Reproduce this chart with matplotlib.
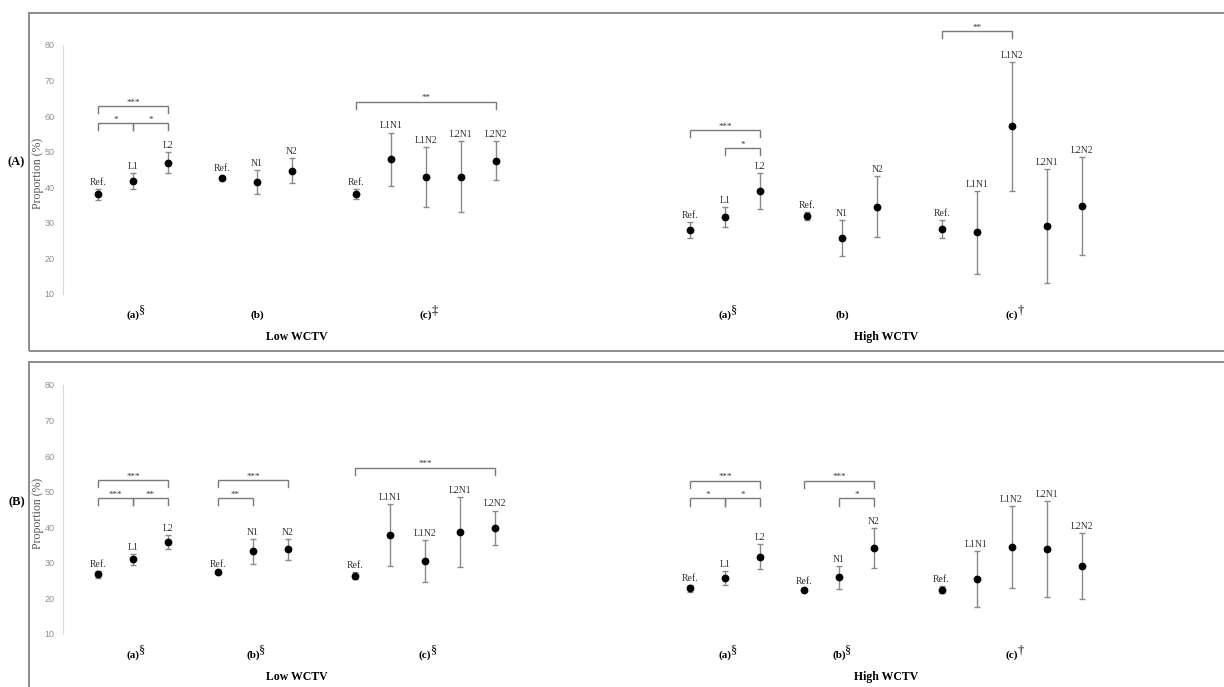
import matplotlib
matplotlib.use("Agg")
import matplotlib.pyplot as plt
from matplotlib.patches import Rectangle
from matplotlib import transforms

plt.rcParams['font.family'] = ['Liberation Serif', 'DejaVu Serif']

# ---- data (mean, half error) ----
labels_a = ['Ref.', 'L1', 'L2']
labels_b = ['Ref.', 'N1', 'N2']
labels_c = ['Ref.', 'L1N1', 'L1N2', 'L2N1', 'L2N2']

# panel A
A_low_a = [38.0, 41.8, 46.9]
A_low_a_err = [1.6, 2.2, 3.0]
A_low_b = [42.7, 41.4, 44.7]
A_low_b_err = [0.6, 3.4, 3.6]
A_low_c = [38.1, 47.9, 42.8, 43.0, 47.5]
A_low_c_err = [1.5, 7.5, 8.4, 10.0, 5.4]
A_high_a = [28.0, 31.6, 38.9]
A_high_a_err = [2.2, 2.8, 5.0]
A_high_b = [31.9, 25.7, 34.5]
A_high_b_err = [1.2, 5.0, 8.6]
A_high_c = [28.2, 27.3, 57.1, 29.0, 34.7]
A_high_c_err = [2.5, 11.7, 18.2, 16.0, 13.7]

# panel B
B_low_a = [26.8, 31.0, 35.8]
B_low_a_err = [1.0, 1.5, 2.0]
B_low_b = [27.3, 33.2, 33.8]
B_low_b_err = [0.5, 3.5, 3.0]
B_low_c = [26.4, 37.8, 30.5, 38.7, 39.9]
B_low_c_err = [1.0, 8.7, 5.9, 9.9, 4.8]
B_high_a = [22.8, 25.7, 31.7]
B_high_a_err = [1.0, 1.9, 3.5]
B_high_b = [22.5, 25.9, 34.2]
B_high_b_err = [0.5, 3.2, 5.7]
B_high_c = [22.5, 25.4, 34.5, 33.8, 29.1]
B_high_c_err = [1.0, 7.9, 11.5, 13.5, 9.3]

sup_A = ['§', '', '‡', '§', '', '†']
sup_B = ['§', '§', '§', '§', '§', '†']

# brackets: (group index, from label, to label, level y, stars)
brk_A = [(0, 'Ref.', 'L2', 62.9, '***'), (0, 'Ref.', 'L1', 58.0, '*'), (0, 'L1', 'L2', 58.0, '*'),
         (2, 'Ref.', 'L2N2', 64.1, '**'),
         (3, 'Ref.', 'L2', 56.1, '***'), (3, 'L1', 'L2', 51.1, '*'),
         (5, 'Ref.', 'L1N2', 84.0, '**')]
brk_B = [(0, 'Ref.', 'L2', 53.2, '***'), (0, 'Ref.', 'L1', 48.2, '***'), (0, 'L1', 'L2', 48.2, '**'),
         (1, 'Ref.', 'N2', 53.2, '***'), (1, 'Ref.', 'N1', 48.2, '**'),
         (2, 'Ref.', 'L2N2', 56.8, '***'),
         (3, 'Ref.', 'L2', 53.1, '***'), (3, 'Ref.', 'L1', 48.1, '*'), (3, 'L1', 'L2', 48.1, '*'),
         (4, 'Ref.', 'N2', 53.1, '***'), (4, 'N1', 'N2', 48.1, '*')]

W, H = 1224, 687
fig = plt.figure(figsize=(W / 100, H / 100), dpi=100)

# panel frames
for top, bot in [(13, 351), (362, 700)]:
    fig.patches.append(Rectangle((29 / W, 1 - bot / H), 1.2, (bot - top) / H,
                                 transform=fig.transFigure, fill=False,
                                 edgecolor='#8c8c8c', lw=1.4))


def panel(ytop, groups, starts, sups, brackets, tag):
    # axes in pixel layout: 80 % at ytop+32, 3.557 px per unit, 35 px per x unit
    px_u = 3.557
    top_px, bot_px = ytop + 7, ytop + 327
    ax = fig.add_axes([63 / W, 1 - bot_px / H, (1210 - 63) / W, (bot_px - top_px) / H])
    ax.patch.set_alpha(0)
    y80 = ytop + 32
    ax.set_ylim(80 - (bot_px - y80) / px_u, 80 + (y80 - top_px) / px_u)
    ax.set_xlim((63 - 98) / 35, (1210 - 98) / 35)
    for s in ['top', 'right', 'bottom']:
        ax.spines[s].set_visible(False)
    ax.spines['left'].set_bounds(10, 80)
    ax.spines['left'].set_color('#d9d9d9')
    ax.set_xticks([])
    ax.set_yticks(range(10, 81, 10))
    ax.tick_params(axis='y', length=0, pad=6, labelsize=6.5, labelcolor='#8f8f8f')
    for t in ax.get_yticklabels():
        t.set_family('Liberation Sans')
    ax.set_ylabel('Proportion (%)', fontsize=8.5, color='#555555', labelpad=1)
    ax.yaxis.set_label_coords(-0.0165, 0.52)

    xs_all = []
    for gi, ((vals, errs, labs), x0) in enumerate(zip(groups, starts)):
        xs = [x0 + i for i in range(len(vals))]
        xs_all.append(dict(zip(labs, xs)))
        ax.errorbar(xs, vals, yerr=errs, fmt='o', color='black', ms=4.6,
                    ecolor='#8a8a8a', elinewidth=1, capsize=2.2, capthick=1)
        for x, v, e, lb in zip(xs, vals, errs, labs):
            ax.annotate(lb, (x, v + e), xytext=(0, 1.5), textcoords='offset points',
                        ha='center', va='bottom', fontsize=7, color='#333333')
        xc = (xs[0] + xs[-1]) / 2
        ax.text(xc, 4.0, '(' + 'abc'[gi % 3] + ')', ha='center', va='center',
                fontsize=8, fontweight='bold')
        if sups[gi]:
            tr = transforms.offset_copy(ax.transData, fig=fig, x=6.6, y=3.5, units='points')
            ax.text(xc, 4.0, sups[gi], transform=tr, ha='center', va='center',
                    fontsize=9)
    for gi, l1, l2, yb, st in brackets:
        x1, x2 = xs_all[gi][l1], xs_all[gi][l2]
        ax.plot([x1, x1, x2, x2], [yb - 2, yb, yb, yb - 2], color='#7a7a7a', lw=1,
                solid_joinstyle='miter')
        ax.annotate(st, ((x1 + x2) / 2, yb), xytext=(0, -0.5), textcoords='offset points',
                    ha='center', va='bottom', fontsize=6.5, color='#333333')
    low_c = (starts[0] + starts[2] + 4) / 2
    high_c = (starts[3] + starts[5] + 4) / 2
    ywc = 80 - (bot_px - 3 - y80) / px_u
    ax.text(low_c, ywc, 'Low WCTV', ha='center', va='center', fontsize=8.5, fontweight='bold')
    ax.text(high_c, ywc, 'High WCTV', ha='center', va='center', fontsize=8.5, fontweight='bold')
    fig.text(16.5 / W, 1 - (ytop + 149) / H, tag, ha='center', va='center',
             fontsize=9, fontweight='bold')


groups_A = [(A_low_a, A_low_a_err, labels_a), (A_low_b, A_low_b_err, labels_b),
            (A_low_c, A_low_c_err, labels_c), (A_high_a, A_high_a_err, labels_a),
            (A_high_b, A_high_b_err, labels_b), (A_high_c, A_high_c_err, labels_c)]
groups_B = [(B_low_a, B_low_a_err, labels_a), (B_low_b, B_low_b_err, labels_b),
            (B_low_c, B_low_c_err, labels_c), (B_high_a, B_high_a_err, labels_a),
            (B_high_b, B_high_b_err, labels_b), (B_high_c, B_high_c_err, labels_c)]

panel(13, groups_A, [0, 3.54, 7.37, 16.91, 20.26, 24.11], sup_A, brk_A, '(A)')
panel(353, groups_B, [0, 3.43, 7.34, 16.91, 20.17, 24.1], sup_B, brk_B, '(B)')

fig.savefig('out.png', dpi=100)
